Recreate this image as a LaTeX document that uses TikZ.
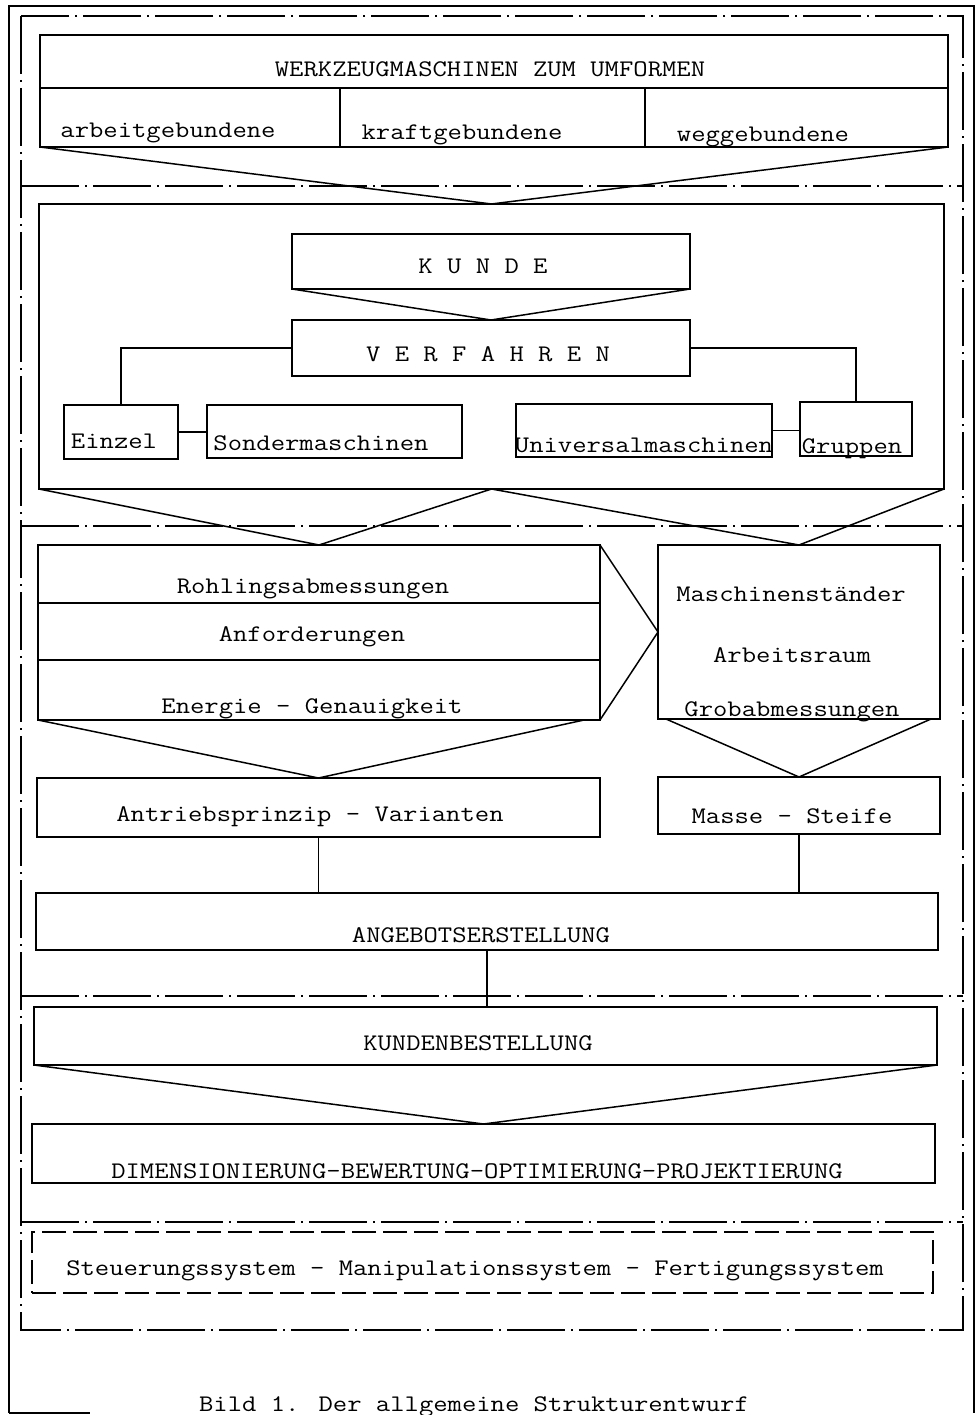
\documentclass[tikz,border=0pt]{standalone}
\usepackage{fontspec}
\usetikzlibrary{calc}
\tikzset{
  box/.style={draw, line width=1.8pt, inner sep=0pt, outer sep=0pt, rectangle},
  dashbox/.style={box, line width=1.6pt, dash pattern=on 24pt off 7pt},
  link/.style={line width=1.5pt},
  frameline/.style={line width=1.3pt, dash pattern=on 58pt off 6pt on 2pt off 6pt},
  pageline/.style={line width=1.4pt},
  txt/.style={anchor=base, inner sep=0pt, font=\ttfamily\addfontfeatures{FakeBold=1}\fontsize{23.8}{28}\selectfont}
}
\newcommand\tw[1]{\scalebox{1.17}[1]{#1}}
\newcommand\bx[6][]{\node[box,#1,minimum width={(#5-#3)*1pt},minimum height={(#6-#4)*1pt}] (#2) at ({(#3+#5)/2},{(#4+#6)/2}) {};}
\begin{document}
\begin{tikzpicture}[x=1pt,y=-1pt]
\useasboundingbox (0,0) rectangle (979,1415);
% page frame
\draw[pageline] (9,1413) -- (9,6) -- (974,6) -- (974,1413);
\draw[pageline] (9,1413) -- (90,1413);
% dash-dot frame and separators
\draw[frameline] (21,16) rectangle (963,1330);
\draw[frameline] (21,186) -- (963,186);
\draw[frameline] (21,526) -- (963,526);
\draw[frameline] (21,996) -- (963,996);
\draw[frameline] (21,1222) -- (963,1222);
% boxes
\bx{wz}{40}{35}{948}{88}
\bx{c1}{40}{88}{340}{147}
\bx{c2}{340}{88}{645}{147}
\bx{c3}{645}{88}{948}{147}
\bx{b2}{39}{204}{944}{489}
\bx{kunde}{292}{234}{690}{289}
\bx{verf}{292}{320}{690}{376}
\bx{einzel}{64}{405}{178}{459}
\bx{sonder}{207}{405}{462}{458}
\bx{univ}{516}{404}{772}{457}
\bx{gruppen}{800}{402}{912}{456}
\bx{r1}{38}{545}{600}{603}
\bx{r2}{38}{603}{600}{660}
\bx{r3}{38}{660}{600}{720}
\bx{rb}{658}{545}{940}{719}
\bx{antrieb}{37}{778}{600}{837}
\bx{masse}{658}{777}{940}{834}
\bx{angebot}{36}{893}{938}{950}
\bx{kb}{34}{1007}{937}{1065}
\bx{dim}{32}{1124}{935}{1183}
\bx[dashbox]{steu}{32}{1232}{933}{1293}
% texts
\node[txt] (t1) at (490,77) {\tw{WERKZEUGMASCHINEN ZUM UMFORMEN}};
\node[txt] (t2) at (168,138) {\tw{arbeitgebundene}};
\node[txt] (t3) at (462,140) {\tw{kraftgebundene}};
\node[txt] (t4) at (763,142) {\tw{weggebundene}};
\node[txt] (t5) at (483,273) {\tw{K U N D E}};
\node[txt] (t6) at (488,361) {\tw{V E R F A H R E N}};
\node[txt] (t7) at (114,448) {\tw{Einzel}};
\node[txt] (t8) at (321,450) {\tw{Sondermaschinen}};
\node[txt] (t9) at (644,452) {\tw{Universalmaschinen}};
\node[txt] (t10) at (852,453) {\tw{Gruppen}};
\node[txt] (t11) at (313,593) {\tw{Rohlingsabmessungen}};
\node[txt] (t12) at (312,641) {\tw{Anforderungen}};
\node[txt] (t13) at (312,713) {\tw{Energie - Genauigkeit}};
\node[txt] (t14) at (791,601) {\tw{Maschinenständer}};
\node[txt] (t15) at (792,662) {\tw{Arbeitsraum}};
\node[txt] (t16) at (792,716) {\tw{Grobabmessungen}};
\node[txt] (t17) at (310,821) {\tw{Antriebsprinzip - Varianten}};
\node[txt] (t18) at (792,823) {\tw{Masse - Steife}};
\node[txt] (t19) at (481,942) {\tw{ANGEBOTSERSTELLUNG}};
\node[txt] (t20) at (478,1050) {\tw{KUNDENBESTELLUNG}};
\node[txt] (t21) at (477,1178) {\tw{DIMENSIONIERUNG-BEWERTUNG-OPTIMIERUNG-PROJEKTIERUNG}};
\node[txt] (t22) at (475,1275) {\tw{Steuerungssystem - Manipulationssystem - Fertigungssystem}};
\node[txt] (t23) at (474,1411) {\tw{Bild 1. Der allgemeine Strukturentwurf}};
% connectors
\coordinate (r3in) at (584,720);
\coordinate (rbl) at (666,719);
\coordinate (rbr) at (931,719);
\draw[link] (c1.south west) -- (b2.north) -- (c3.south east);
\draw[link] (kunde.south west) -- (verf.north) -- (kunde.south east);
\draw[link] (verf.west) -| (einzel.north);
\draw[link] (verf.east) -| (gruppen.north);
\draw[link] (einzel.east) -- (einzel.east -| sonder.west);
\draw[link] (univ.east) -- (univ.east -| gruppen.west);
\draw[link] (b2.south west) -- (r1.north) -- (b2.south) -- (rb.north) -- (b2.south east);
\draw[link] (r1.north east) -- (rb.west) -- (r3.south east);
\draw[link] (r3.south west) -- (antrieb.north) -- (r3in);
\draw[link] (rbl) -- (masse.north) -- (rbr);
\draw[link] (antrieb.south) -- (antrieb.south |- angebot.north);
\draw[link] (masse.south) -- (masse.south |- angebot.north);
\draw[link] (angebot.south) -- (angebot.south |- kb.north);
\draw[link] (kb.south west) -- (dim.north) -- (kb.south east);
\end{tikzpicture}
\end{document}
